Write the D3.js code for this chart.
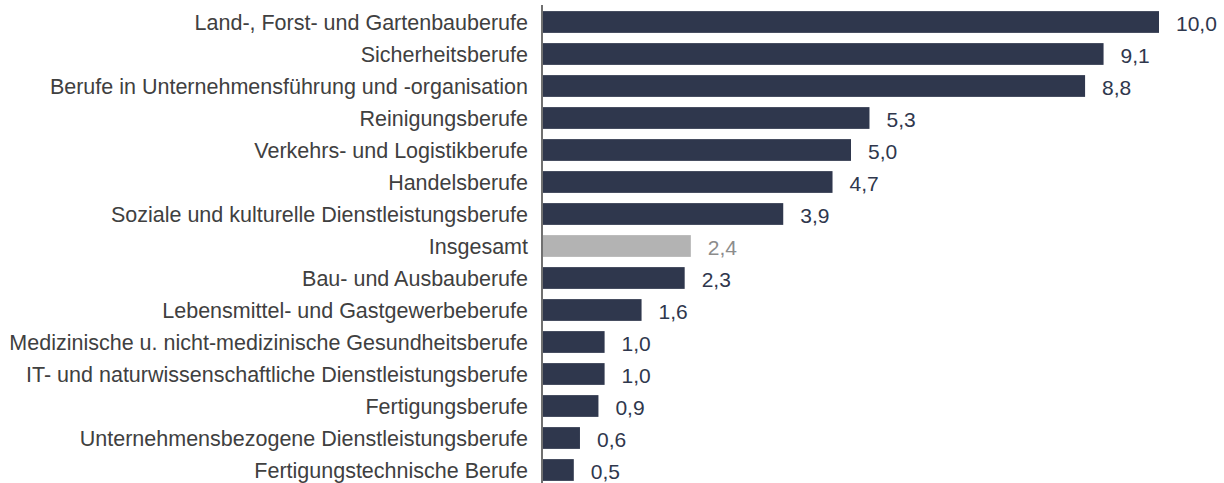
<!DOCTYPE html>
<html>
<head>
<meta charset="utf-8">
<script src="https://cdn.jsdelivr.net/npm/d3@7"></script>
<style>
  html,body{margin:0;padding:0;background:#fff;}
  svg{display:block;font-family:"Liberation Sans",Arial,sans-serif;}
</style>
</head>
<body>
<div id="chart"></div>
<script>
// Anteil je Berufssegment (%), from top to bottom
var categories=["Land-, Forst- und Gartenbauberufe","Sicherheitsberufe","Berufe in Unternehmensführung und -organisation",
  "Reinigungsberufe","Verkehrs- und Logistikberufe","Handelsberufe","Soziale und kulturelle Dienstleistungsberufe",
  "Insgesamt","Bau- und Ausbauberufe","Lebensmittel- und Gastgewerbeberufe","Medizinische u. nicht-medizinische Gesundheitsberufe",
  "IT- und naturwissenschaftliche Dienstleistungsberufe","Fertigungsberufe","Unternehmensbezogene Dienstleistungsberufe",
  "Fertigungstechnische Berufe"];
var values=[10.0,9.1,8.8,5.3,5.0,4.7,3.9,2.4,2.3,1.6,1.0,1.0,0.9,0.6,0.5];
var highlight="Insgesamt";

var W=1224,H=483;
var x0=543, y0=6;
var svg=d3.select("#chart").append("svg").attr("width",W).attr("height",H);

var x=d3.scaleLinear().domain([0,10]).range([x0,1159]);
var y=d3.scaleBand().domain(categories).range([y0,y0+32*categories.length]).paddingInner(0.32).paddingOuter(0.16);

var fmt=function(v){return d3.format(".1f")(v).replace(".",",");};

svg.append("g").selectAll("rect").data(categories).enter().append("rect")
  .attr("x",x(0)).attr("y",function(d){return y(d);})
  .attr("width",function(d,i){return x(values[i])-x(0);})
  .attr("height",y.bandwidth())
  .attr("fill",function(d){return d===highlight?"#b3b3b3":"#2f374d";});

svg.append("g").selectAll("text").data(categories).enter().append("text")
  .attr("x",x0-15).attr("y",function(d){return y(d)+y.bandwidth()/2;})
  .attr("dy","0.35em").attr("text-anchor","end")
  .attr("font-size",21.5).attr("fill","#404040")
  .text(function(d){return d;});

svg.append("g").selectAll("text").data(categories).enter().append("text")
  .attr("x",function(d,i){return x(values[i])+17;}).attr("y",function(d){return y(d)+y.bandwidth()/2+2;})
  .attr("dy","0.35em")
  .attr("font-size",21).attr("fill",function(d){return d===highlight?"#8c8c8c":"#2f374d";})
  .text(function(d,i){return fmt(values[i]);});

svg.append("line").attr("x1",x0-1).attr("x2",x0-1).attr("y1",5).attr("y2",H)
  .attr("stroke","#404040").attr("stroke-width",1.5);
</script>
</body>
</html>
